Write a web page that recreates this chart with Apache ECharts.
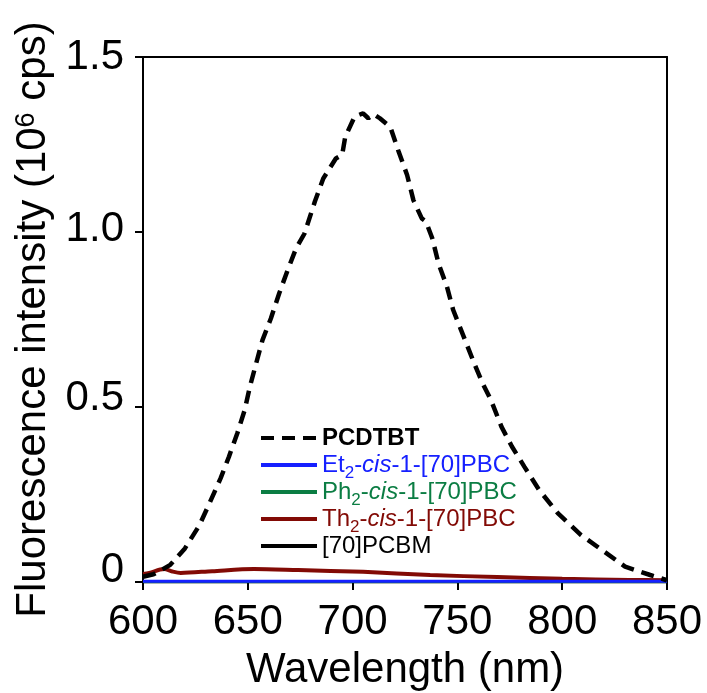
<!DOCTYPE html>
<html>
<head>
<meta charset="utf-8">
<script src="https://cdn.jsdelivr.net/npm/echarts@6/dist/echarts.min.js"></script>
<style>
  html, body { margin: 0; padding: 0; background: #fff; }
  #chart { width: 707px; height: 693px; }
</style>
</head>
<body>
<div id="chart"></div>
<script>
// fluorescence spectra, values (10^6 cps)
var xTicks = [600, 650, 700, 750, 800, 850];
var yTicks = [0, 0.5, 1.0, 1.5];

var pcdtbtWl = [600, 605, 609, 613, 620, 627, 632, 637, 641, 645, 648.5, 651, 654, 657, 661, 665, 669, 673, 677, 682, 686, 692, 695, 696.5, 701, 705, 707.5, 710, 713, 718, 722, 726, 729, 733, 735, 738, 741, 745, 748, 753, 758, 762, 766, 771, 776, 782, 789, 798, 809, 820, 830, 842, 850];
var pcdtbtVal = [0.015, 0.022, 0.035, 0.049, 0.096, 0.163, 0.229, 0.296, 0.358, 0.425, 0.491, 0.558, 0.625, 0.691, 0.753, 0.825, 0.891, 0.953, 0.995, 1.087, 1.153, 1.21, 1.22, 1.272, 1.33, 1.339, 1.325, 1.337, 1.325, 1.30, 1.229, 1.163, 1.091, 1.039, 1.03, 0.982, 0.91, 0.844, 0.777, 0.701, 0.625, 0.568, 0.52, 0.444, 0.387, 0.329, 0.263, 0.196, 0.134, 0.087, 0.044, 0.02, 0.005];

var thWl = [600, 603, 610, 614, 618, 633, 653, 674, 705, 737, 769, 800, 832, 850];
var thVal = [0.023, 0.026, 0.037, 0.030, 0.026, 0.031, 0.037, 0.034, 0.029, 0.020, 0.014, 0.009, 0.006, 0.005];

var flatWl = [600, 650, 700, 750, 800, 850];
var etVal = [0.002, 0.002, 0.002, 0.002, 0.002, 0.002];
var phVal = [0.001, 0.001, 0.001, 0.001, 0.001, 0.001];
var pcbmVal = [0, 0, 0, 0, 0, 0];

var seriesNames = ["PCDTBT", "Et2-cis-1-[70]PBC", "Ph2-cis-1-[70]PBC", "Th2-cis-1-[70]PBC", "[70]PCBM"];
var colors = ["#000000", "#1620ff", "#0b7d43", "#820a05", "#000000"];

function pairs(xs, ys) {
  return xs.map(function (x, i) { return [x, ys[i]]; });
}

var FONT = "Liberation Sans";

// tall lines so the bottom-aligned subscript drops below the baseline
var LH = 34;
var legendRich = {
  pc: { fontFamily: FONT, fontSize: 24, fontWeight: "bold", color: "#000", lineHeight: LH },
  k: { fontFamily: FONT, fontSize: 24, color: "#000", lineHeight: LH }
};
[["e", colors[1]], ["g", colors[2]], ["r", colors[3]]].forEach(function (c) {
  legendRich[c[0]] = { fontFamily: FONT, fontSize: 24, color: c[1], lineHeight: LH };
  legendRich[c[0] + "i"] = { fontFamily: FONT, fontSize: 24, fontStyle: "italic", color: c[1], lineHeight: LH };
  legendRich[c[0] + "s"] = { fontFamily: FONT, fontSize: 17, color: c[1], verticalAlign: "bottom" };
});

function legendLabel(name) {
  if (name === "PCDTBT") return "{pc|PCDTBT}";
  if (name === "[70]PCBM") return "{k|[70]PCBM}";
  var key = name.charAt(0) === "E" ? "e" : (name.charAt(0) === "P" ? "g" : "r");
  var head = name.substring(0, 2);
  return "{" + key + "|" + head + "}{" + key + "s|2}{" + key + "|-}{" + key + "i|cis}{" + key + "|-1-[70]PBC}";
}

// one legend block per entry, rows 27px apart
var legends = seriesNames.map(function (name, i) {
  return {
    orient: "vertical",
    left: 259,
    top: 426 + i * 27,
    itemWidth: 56,
    itemHeight: 14,
    padding: 0,
    data: [name],
    formatter: legendLabel,
    itemStyle: { opacity: 0 },
    lineStyle: { width: 4 },
    textStyle: { fontFamily: FONT, fontSize: 24, rich: legendRich }
  };
});

// y tick labels in the figure sit a little above their ticks near the bottom
var yLabelRich = {
  y0: { fontFamily: FONT, fontSize: 42, color: "#000", padding: [0, 0, 24, 0] },
  y1: { fontFamily: FONT, fontSize: 42, color: "#000", padding: [0, 0, 18, 0] },
  y2: { fontFamily: FONT, fontSize: 42, color: "#000", padding: [0, 0, 6, 0] },
  y3: { fontFamily: FONT, fontSize: 42, color: "#000" }
};

var chart = echarts.init(document.getElementById("chart"));
var option = {
  animation: false,
  backgroundColor: "#fff",
  grid: { left: 143, right: 40, top: 57, bottom: 111, outerBoundsMode: "none" },
  legend: legends,
  xAxis: [
    {
      type: "value",
      min: 600,
      max: 850,
      interval: 50,
      name: "Wavelength (nm)",
      nameLocation: "middle",
      nameGap: 67,
      nameTextStyle: { fontFamily: FONT, fontSize: 42, color: "#000" },
      axisLine: { show: true, onZero: false, lineStyle: { color: "#000", width: 2 } },
      axisTick: { show: true, inside: false, length: 8, lineStyle: { color: "#000", width: 2 } },
      axisLabel: { margin: 19, fontFamily: FONT, fontSize: 42, color: "#000" },
      splitLine: { show: false }
    },
    {
      type: "value",
      position: "top",
      min: 600,
      max: 850,
      axisLine: { show: true, onZero: false, lineStyle: { color: "#000", width: 2 } },
      axisTick: { show: false },
      axisLabel: { show: false },
      splitLine: { show: false }
    }
  ],
  yAxis: [
    {
      type: "value",
      min: 0,
      max: 1.5,
      interval: 0.5,
      name: "Fluorescence intensity (10{sup|6} cps)",
      nameLocation: "middle",
      nameGap: 77,
      nameTextStyle: {
        fontFamily: FONT, fontSize: 42, color: "#000",
        rich: { sup: { fontFamily: FONT, fontSize: 27, color: "#000", lineHeight: 20, verticalAlign: "top" } }
      },
      axisLine: { show: true, onZero: false, lineStyle: { color: "#000", width: 2 } },
      axisTick: { show: true, inside: false, length: 8, lineStyle: { color: "#000", width: 2 } },
      axisLabel: {
        margin: 19, fontFamily: FONT, fontSize: 42, color: "#000", rich: yLabelRich,
        formatter: function (v) {
          var i = yTicks.indexOf(v);
          var txt = v === 0 ? "0" : v.toFixed(1);
          return "{y" + i + "|" + txt + "}";
        }
      },
      splitLine: { show: false }
    },
    {
      type: "value",
      position: "right",
      min: 0,
      max: 1.5,
      axisLine: { show: true, onZero: false, lineStyle: { color: "#000", width: 2 } },
      axisTick: { show: false },
      axisLabel: { show: false },
      splitLine: { show: false }
    }
  ],
  series: [
    {
      name: seriesNames[0], type: "line", showSymbol: false, symbol: "none", z: 5,
      data: pairs(pcdtbtWl, pcdtbtVal),
      lineStyle: { color: colors[0], width: 4.5, type: [13, 8] },
      itemStyle: { color: colors[0] }
    },
    {
      name: seriesNames[1], type: "line", showSymbol: false, symbol: "none", z: 4,
      data: pairs(flatWl, etVal),
      lineStyle: { color: colors[1], width: 3 },
      itemStyle: { color: colors[1] }
    },
    {
      name: seriesNames[2], type: "line", showSymbol: false, symbol: "none", z: 3,
      data: pairs(flatWl, phVal),
      lineStyle: { color: colors[2], width: 3 },
      itemStyle: { color: colors[2] }
    },
    {
      name: seriesNames[3], type: "line", showSymbol: false, symbol: "none", smooth: 0.3, z: 3,
      data: pairs(thWl, thVal),
      lineStyle: { color: colors[3], width: 4 },
      itemStyle: { color: colors[3] }
    },
    {
      name: seriesNames[4], type: "line", showSymbol: false, symbol: "none", z: 2,
      data: pairs(flatWl, pcbmVal),
      lineStyle: { color: colors[4], width: 3 },
      itemStyle: { color: colors[4] }
    }
  ]
};
chart.setOption(option);
</script>
</body>
</html>
